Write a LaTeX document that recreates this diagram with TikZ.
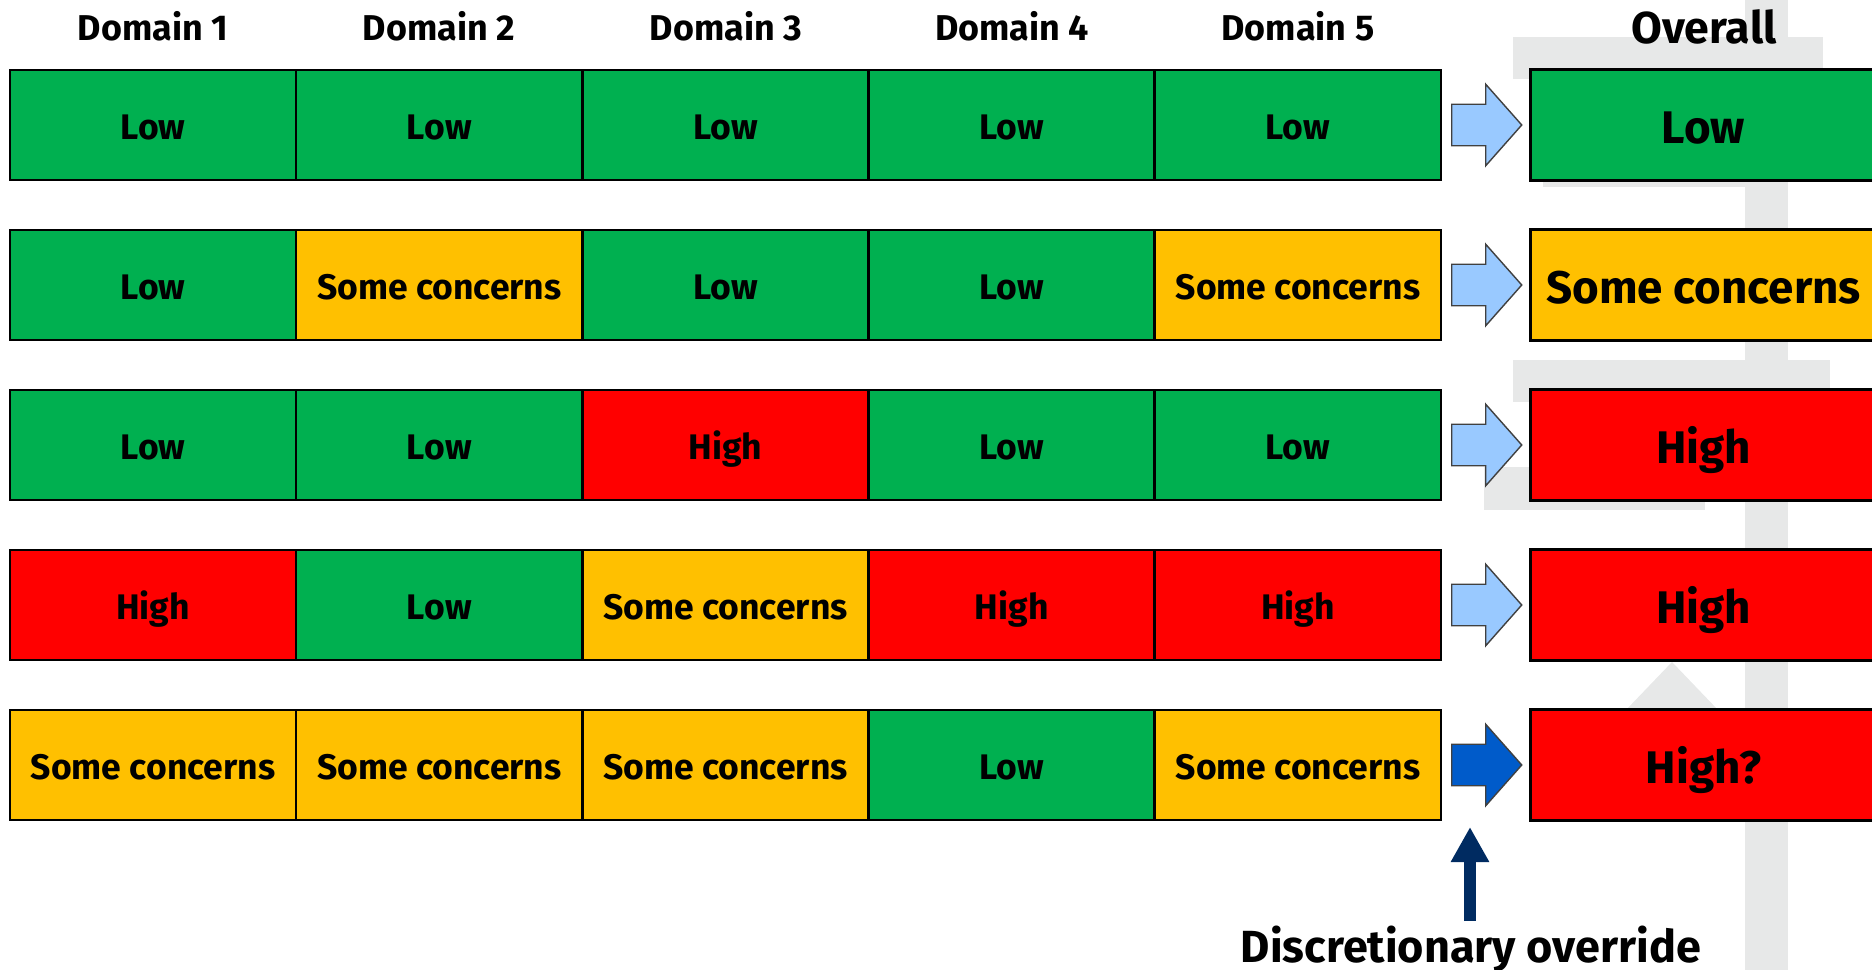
\documentclass[tikz,border=0pt]{standalone}
\usepackage{fontspec}
\setmainfont{Fira Sans}
\usetikzlibrary{shapes.arrows,arrows.meta}

\definecolor{lowgreen}{HTML}{00B050}
\definecolor{someamber}{HTML}{FFC000}
\definecolor{highred}{HTML}{FF0000}
\definecolor{arrlight}{HTML}{99C9FF}
\definecolor{arrdark}{HTML}{005BCA}
\definecolor{navy}{HTML}{002B61}
\definecolor{wmgrey}{HTML}{E7E8E8}

\newcommand\cellfont{\fontsize{10.1}{12}\selectfont\bfseries}
\newcommand\bigfont{\fontsize{13}{15}\selectfont\bfseries}

\tikzset{
  cell/.style={draw=black, line width=0.7pt, minimum width=2.862cm,
    minimum height=1.1cm, inner sep=0pt, font=\cellfont,
    text height=10.1pt, text depth=2pt},
  lo/.style={cell, fill=lowgreen},
  sc/.style={cell, fill=someamber},
  hi/.style={cell, fill=highred},
  overall/.style={draw=black, line width=0.85pt, minimum width=3.45cm,
    minimum height=1.1cm, inner sep=0pt, font=\bigfont,
    text height=13pt, text depth=2.6pt},
  blockarr/.style={single arrow, draw=black!75, line width=0.4pt,
    inner sep=0.2cm, single arrow head extend=0.2cm,
    single arrow tip angle=97, minimum height=0.7cm, anchor=tail},
  head/.style={font=\fontsize{10.2}{12}\selectfont\bfseries}
}

\begin{document}
\begin{tikzpicture}[x=0.01cm,y=-0.01cm]
\useasboundingbox (0,0) rectangle (1872,970);

% faded background mark
\fill[wmgrey] (1745,0) rectangle (1788,970);
\fill[wmgrey] (1513,37) rectangle (1823,79);
\fill[wmgrey] (1543,100) rectangle (1788,187);
\fill[wmgrey] (1513,360) rectangle (1830,402);
\fill[wmgrey] (1484,467) rectangle (1705,510);
\fill[wmgrey] (1626,710) -- (1672,662) -- (1718,710) -- cycle;

% headers
\node[head] (h1) at (153,26) {Domain 1};
\node[head] (h2) at (439,26) {Domain 2};
\node[head] (h3) at (726,26) {Domain 3};
\node[head] (h4) at (1012,26) {Domain 4};
\node[head] (h5) at (1298,26) {Domain 5};
\node[font=\fontsize{12.7}{15}\selectfont\bfseries] (hov) at (1704,27) {Overall};

% row 1
\node[lo] (d11) at (153.1,125) {Low};
\node[lo] (d12) at (439.3,125) {Low};
\node[lo] (d13) at (725.5,125) {Low};
\node[lo] (d14) at (1011.7,125) {Low};
\node[lo] (d15) at (1297.9,125) {Low};

% row 2
\node[lo] (d21) at (153.1,285) {Low};
\node[sc] (d22) at (439.3,285) {Some concerns};
\node[lo] (d23) at (725.5,285) {Low};
\node[lo] (d24) at (1011.7,285) {Low};
\node[sc] (d25) at (1297.9,285) {Some concerns};

% row 3
\node[lo] (d31) at (153.1,445) {Low};
\node[lo] (d32) at (439.3,445) {Low};
\node[hi] (d33) at (725.5,445) {High};
\node[lo] (d34) at (1011.7,445) {Low};
\node[lo] (d35) at (1297.9,445) {Low};

% row 4
\node[hi] (d41) at (153.1,605) {High};
\node[lo] (d42) at (439.3,605) {Low};
\node[sc] (d43) at (725.5,605) {Some concerns};
\node[hi] (d44) at (1011.7,605) {High};
\node[hi] (d45) at (1297.9,605) {High};

% row 5
\node[sc] (d51) at (153.1,765) {Some concerns};
\node[sc] (d52) at (439.3,765) {Some concerns};
\node[sc] (d53) at (725.5,765) {Some concerns};
\node[lo] (d54) at (1011.7,765) {Low};
\node[sc] (d55) at (1297.9,765) {Some concerns};

% arrows to the overall judgement
\node[blockarr, fill=arrlight] (a1) at (1451,125) {};
\node[blockarr, fill=arrlight] (a2) at (1451,285) {};
\node[blockarr, fill=arrlight] (a3) at (1451,445) {};
\node[blockarr, fill=arrlight] (a4) at (1451,605) {};
\node[blockarr, fill=arrdark] (a5) at (1451,765) {};

% overall
\node[overall, fill=lowgreen] (ov1) at (1703.5,125) {Low};
\node[overall, fill=someamber] (ov2) at (1703.5,285) {Some concerns};
\node[overall, fill=highred] (ov3) at (1703.5,445) {High};
\node[overall, fill=highred] (ov4) at (1703.5,605) {High};
\node[overall, fill=highred] (ov5) at (1703.5,765) {High?};

% override
\node[font=\fontsize{12.8}{15}\selectfont\bfseries, anchor=base] (ovr) at (1471,962) {Discretionary override};
\coordinate (ovtail) at (1470,921);
\coordinate (ovtip) at (1470,827);
\draw[navy, line width=0.12cm, -{Triangle[width=0.36cm,length=0.35cm]}] (ovtail) -- (ovtip);
\end{tikzpicture}
\end{document}
